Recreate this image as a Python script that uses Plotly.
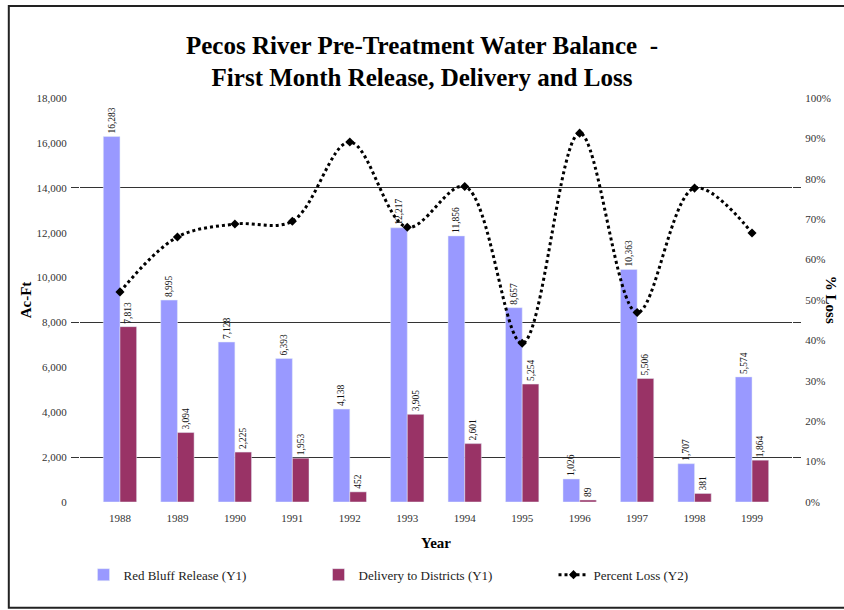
import plotly.graph_objects as go

years = ["1988", "1989", "1990", "1991", "1992", "1993",
         "1994", "1995", "1996", "1997", "1998", "1999"]
release = [16283, 8995, 7128, 6393, 4138, 12217, 11856, 8657, 1026, 10363, 1707, 5574]
delivery = [7813, 3094, 2225, 1953, 452, 3905, 2601, 5254, 89, 5506, 381, 1864]
pct_loss = [0.52, 0.656, 0.688, 0.695, 0.891, 0.68, 0.781, 0.393, 0.913, 0.469, 0.777, 0.666]

serif = "Liberation Serif, Times New Roman, serif"

fig = go.Figure()

fig.add_trace(go.Bar(
    x=years, y=release, name="Red Bluff Release (Y1)",
    marker=dict(color="#9999FF"),
    texttemplate="%{y:,}", textposition="outside", textangle=-90,
    textfont=dict(family=serif, size=9.5, color="#111"),
    constraintext="none", cliponaxis=False,
))
fig.add_trace(go.Bar(
    x=years, y=delivery, name="Delivery to Districts (Y1)",
    marker=dict(color="#993366"),
    texttemplate="%{y:,}", textposition="outside", textangle=-90,
    textfont=dict(family=serif, size=9.5, color="#111"),
    constraintext="none", cliponaxis=False,
))
fig.add_trace(go.Scatter(
    x=years, y=pct_loss, name="Percent Loss (Y2)", yaxis="y2",
    mode="lines+markers",
    line=dict(color="black", width=3, dash="dot", shape="spline", smoothing=1),
    marker=dict(symbol="diamond", size=7, color="black"),
))

# gridlines every 6,000 starting at 2,000, extended slightly outside the plot
grid_axis = dict(overlaying="y", range=[0, 18000], tick0=2000, dtick=6000,
                 showgrid=True, gridcolor="#333", gridwidth=1,
                 showticklabels=False, ticks="outside", ticklen=8,
                 tickcolor="#333", zeroline=False, anchor="x", automargin=False)

fig.update_layout(
    width=844, height=610,
    paper_bgcolor="white", plot_bgcolor="white",
    margin=dict(l=80, r=52, t=98, b=108, autoexpand=False),
    font=dict(family=serif, color="black"),
    title=dict(
        text="<b>Pecos River Pre-Treatment Water Balance  -<br>First Month Release, Delivery and Loss</b>",
        x=0.5, xanchor="center", y=0.912, yanchor="top",
        font=dict(family=serif, size=25, color="black"),
    ),
    barmode="group", bargap=0.42, bargroupgap=0,
    xaxis=dict(type="category", showgrid=False, showline=False, ticks="outside",
               ticklen=6, tickcolor="rgba(0,0,0,0)", automargin=False,
               tickfont=dict(family=serif, size=11, color="#333"),
               title=dict(text="<b>Year</b>", font=dict(family=serif, size=15), standoff=14)),
    yaxis=dict(range=[0, 18000], tickvals=list(range(0, 18001, 2000)), tickformat=",",
               showgrid=False, zeroline=False, showline=False, automargin=False,
               ticks="outside", ticklen=10, tickcolor="rgba(0,0,0,0)",
               tickfont=dict(family=serif, size=11, color="#333"),
               title=dict(text="<b>Ac-Ft</b>", font=dict(family=serif, size=15), standoff=1)),
    yaxis2=dict(overlaying="y", side="right", range=[0, 1], dtick=0.1, tickformat=".0%",
                showgrid=False, zeroline=False, showline=False, automargin=False,
                ticks="outside", ticklen=10, tickcolor="rgba(0,0,0,0)",
                tickfont=dict(family=serif, size=11, color="#333")),
    yaxis3=dict(side="left", **grid_axis),
    yaxis4=dict(side="right", **grid_axis),
    legend=dict(orientation="h", x=0.5, xanchor="center", y=-0.18, yanchor="middle",
                entrywidth=190, font=dict(family=serif, size=13, color="#222"),
                traceorder="normal"),
    annotations=[dict(text="<b>% Loss</b>", xref="paper", yref="paper",
                      x=1.055, y=0.5, xanchor="center", yanchor="middle",
                      textangle=90, showarrow=False,
                      font=dict(family=serif, size=15, color="black"))],
    shapes=[dict(type="rect", xref="paper", yref="paper",
                 x0=-0.1, x1=1.2, y0=-0.262, y1=1.228,
                 line=dict(color="#222", width=2), fillcolor="rgba(0,0,0,0)")],
)

# dummy traces so the grid axes are drawn
fig.add_trace(go.Scatter(x=years[:1], y=[None], yaxis="y3", showlegend=False, hoverinfo="skip"))
fig.add_trace(go.Scatter(x=years[:1], y=[None], yaxis="y4", showlegend=False, hoverinfo="skip"))

fig.write_html("out.html", config={"displayModeBar": False},
               post_script="document.body.style.margin='0';")
